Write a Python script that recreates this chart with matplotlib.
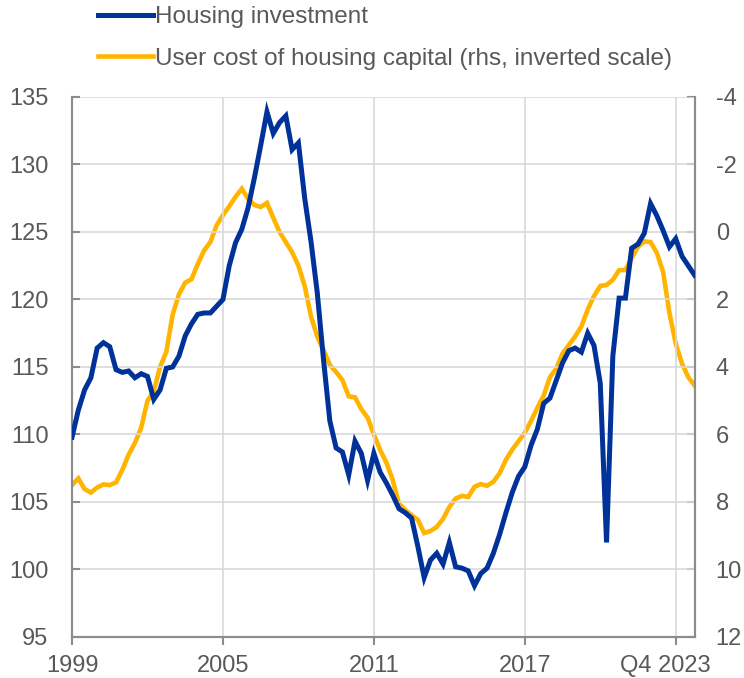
import numpy as np
import matplotlib
matplotlib.use("Agg")
import matplotlib.pyplot as plt
import matplotlib.transforms as mtransforms

plt.rcParams['font.family'] = ['Liberation Sans', 'DejaVu Sans']

# quarterly data, 1999 Q1 - 2023 Q4
housing_investment = [
    109.8, 111.8, 113.3, 114.2, 116.4, 116.8, 116.5, 114.8, 114.6, 114.7,
    114.2, 114.5, 114.3, 112.6, 113.3, 114.9, 115.0, 115.8, 117.3, 118.2,
    118.9, 119.0, 119.0, 119.5, 120.0, 122.5, 124.2, 125.2, 126.8, 129.0,
    131.4, 133.9, 132.3, 133.1, 133.6, 131.1, 131.6, 127.5, 124.3, 120.5,
    115.5, 111.0, 109.0, 108.7, 107.0, 109.5, 108.6, 106.6, 108.6, 107.2,
    106.4, 105.5, 104.5, 104.2, 103.8, 101.7, 99.4, 100.7, 101.2, 100.4,
    102.0, 100.2, 100.1, 99.9, 98.8, 99.7, 100.1, 101.2, 102.6, 104.2,
    105.7, 106.9, 107.6, 109.2, 110.4, 112.3, 112.7, 114.0, 115.3, 116.2,
    116.4, 116.1, 117.5, 116.6, 113.8, 102.0, 115.8, 120.1, 120.1, 123.8,
    124.1, 124.9, 127.1, 126.2, 125.1, 123.9, 124.5, 123.2, 122.5, 121.8,
]
user_cost = [
    7.5, 7.3, 7.62, 7.72, 7.57, 7.48, 7.5, 7.42, 7.05, 6.6,
    6.25, 5.8, 5.0, 4.72, 4.0, 3.55, 2.45, 1.85, 1.5, 1.4,
    0.95, 0.55, 0.3, -0.2, -0.5, -0.76, -1.04, -1.28, -0.98, -0.8,
    -0.74, -0.86, -0.42, 0.0, 0.3, 0.6, 1.0, 1.6, 2.5, 3.1,
    3.5, 3.94, 4.15, 4.39, 4.87, 4.9, 5.25, 5.5, 6.0, 6.46,
    6.84, 7.35, 8.05, 8.24, 8.39, 8.53, 8.92, 8.86, 8.74, 8.5,
    8.15, 7.9, 7.82, 7.85, 7.55, 7.47, 7.52, 7.4, 7.15, 6.75,
    6.45, 6.2, 5.95, 5.6, 5.21, 4.85, 4.3, 4.05, 3.6, 3.35,
    3.1, 2.8, 2.3, 1.9, 1.6, 1.57, 1.42, 1.13, 1.13, 0.77,
    0.44, 0.28, 0.3, 0.62, 1.19, 2.4, 3.3, 3.9, 4.3, 4.55,
]
tick_pos = [0, 24, 48, 72, 96]
tick_labels = ['1999', '2005', '2011', '2017', 'Q4 2023']
left_ticks = [95, 100, 105, 110, 115, 120, 125, 130, 135]
right_ticks = [-4, -2, 0, 2, 4, 6, 8, 10, 12]

blue = '#003299'
yellow = '#FFB400'
grey = '#595959'
spine_grey = '#8c8c8c'
grid_grey = '#d9d9d9'

fig = plt.figure(figsize=(7.44, 6.78), dpi=100)
ax = fig.add_axes([0.0968, 0.0605, 0.8372, 0.7965])
ax2 = ax.twinx()

x = np.arange(len(housing_investment))
l1, = ax.plot(x, housing_investment, color=blue, lw=3.6, solid_joinstyle='miter',
              label='Housing investment', zorder=3)
l2, = ax2.plot(x, user_cost, color=yellow, lw=3.3, solid_joinstyle='miter',
               label='User cost of housing capital (rhs, inverted scale)', zorder=2)
ax.set_zorder(ax2.get_zorder() + 1)
ax.patch.set_visible(False)

ax.set_xlim(0, 99.05)
ax.set_ylim(95, 135)
ax2.set_ylim(12, -4)
ax.set_xticks(tick_pos)
ax.set_xticklabels(tick_labels)
ax.set_yticks(left_ticks)
ax.set_yticklabels([str(v) for v in left_ticks])
ax2.set_yticks(right_ticks)
ax2.set_yticklabels([str(v) for v in right_ticks])

ax.grid(True, color=grid_grey, lw=1.2)
ax.set_axisbelow(True)

for a in (ax, ax2):
    a.spines['top'].set_visible(False)
    for s in ('left', 'right', 'bottom'):
        a.spines[s].set_color(spine_grey)
        a.spines[s].set_linewidth(1.5)
    a.tick_params(colors=grey, labelsize=17, length=6, width=1.5, color=spine_grey)
# y ticks point inwards, x ticks outwards
ax.tick_params(axis='y', direction='in', pad=17)
ax2.tick_params(axis='y', direction='in', pad=15)
ax.tick_params(axis='x', direction='out', pad=7)

# last date label sits a little left of its tick
last = ax.get_xticklabels()[-1]
last.set_transform(last.get_transform() +
                   mtransforms.ScaledTranslation(-10 / 100, 0, fig.dpi_scale_trans))

fig.legend(handles=[l1, l2], loc='upper left', bbox_to_anchor=(0.119, 1.005),
           frameon=False, fontsize=17.5, handlelength=2.25, handletextpad=0.1,
           labelspacing=0.8, labelcolor=grey, borderaxespad=0)

fig.savefig('out.png', dpi=100)
